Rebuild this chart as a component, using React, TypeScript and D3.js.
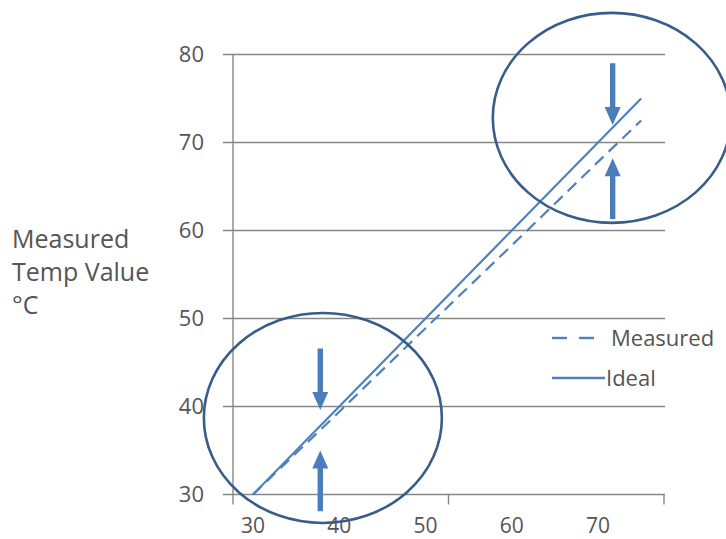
import * as d3 from "d3";

// chart values
const xValues = [30, 40, 50, 60, 70, 75];
const idealValues = [30, 40, 50, 60, 70, 75];
const measuredValues = [30, 39.4, 48.9, 58.3, 67.8, 72.5];
const yTicks = [30, 40, 50, 60, 70, 80];
const xTickLabels = [30, 40, 50, 60, 70];
const legendItems = ["Measured", "Ideal"];
const yLabelLines = ["Measured", "Temp Value", "°C"];

// annotation ellipses and arrows, in data units
const circles = [
  { x: 38.1, y: 38.7 },
  { x: 71.6, y: 72.8 },
];
const arrows = [
  { x: 37.8, from: 46.6, to: 39.6 },
  { x: 37.8, from: 28.1, to: 35.0 },
  { x: 71.7, from: 79.0, to: 72.0 },
  { x: 71.7, from: 61.3, to: 68.2 },
];

const W = 726;
const H = 539;
const lineColor = "#4f81bd";
const arrowColor = "#4a7ebb";
const ringColor = "#385d8a";
const gridColor = "#878787";
const textColor = "#555555";
const font = "'Open Sans', sans-serif";

const x = d3.scaleLinear().domain([30, 70]).range([253, 598]);
const y = d3.scaleLinear().domain([30, 80]).range([494.5, 54.5]);
const axisLeft = 233;
const axisRight = 664;

const line = d3
  .line<number>()
  .x((_, i) => x(xValues[i]))
  .y((d) => y(d));

function arrowPath(a: { x: number; from: number; to: number }) {
  const cx = x(a.x);
  const y0 = y(a.from);
  const y1 = y(a.to);
  const dir = y1 > y0 ? 1 : -1;
  const headLen = 18;
  const headW = 8;
  const shaft = 2.7;
  const yb = y1 - dir * headLen;
  const p = d3.path();
  p.moveTo(cx - shaft, y0);
  p.lineTo(cx - shaft, yb);
  p.lineTo(cx - headW, yb);
  p.lineTo(cx, y1);
  p.lineTo(cx + headW, yb);
  p.lineTo(cx + shaft, yb);
  p.lineTo(cx + shaft, y0);
  p.closePath();
  return p.toString();
}

export default function App() {
  return (
    <svg
      width={W}
      height={H}
      style={{ position: "absolute", left: 0, top: 0, background: "#fff" }}
    >
      {/* gridlines and y ticks */}
      {yTicks.map((t) => (
        <g key={t}>
          <line
            x1={axisLeft - 10}
            x2={axisRight + 1}
            y1={y(t)}
            y2={y(t)}
            stroke={gridColor}
            strokeWidth={1.4}
          />
          <text
            x={204}
            y={y(t)}
            dy="0.36em"
            textAnchor="end"
            fontFamily={font}
            fontSize={22}
            fill={textColor}
          >
            {t}
          </text>
        </g>
      ))}
      {/* y axis */}
      <line x1={axisLeft} x2={axisLeft} y1={y(80)} y2={y(30)} stroke={gridColor} strokeWidth={1.4} />
      {/* x axis tick marks */}
      {[axisLeft, (axisLeft + axisRight) / 2, axisRight].map((px) => (
        <line key={px} x1={px} x2={px} y1={y(30)} y2={y(30) + 10} stroke={gridColor} strokeWidth={1.4} />
      ))}
      {xTickLabels.map((t) => (
        <text
          key={t}
          x={x(t)}
          y={533}
          textAnchor="middle"
          fontFamily={font}
          fontSize={21}
          fill={textColor}
        >
          {t}
        </text>
      ))}

      {/* y axis label */}
      <text fontFamily={font} fontSize={25} fill={textColor}>
        {yLabelLines.map((l, i) => (
          <tspan key={l} x={12} y={248 + i * 33}>
            {l}
          </tspan>
        ))}
      </text>

      {/* series */}
      <path d={line(measuredValues) ?? ""} fill="none" stroke={lineColor} strokeWidth={2.2} strokeDasharray="12,7" />
      <path d={line(idealValues) ?? ""} fill="none" stroke={lineColor} strokeWidth={2.2} />

      {/* legend */}
      <line x1={552} x2={567} y1={338} y2={338} stroke={lineColor} strokeWidth={2.4} />
      <line x1={579} x2={594} y1={338} y2={338} stroke={lineColor} strokeWidth={2.4} />
      <text x={611} y={345.5} fontFamily={font} fontSize={22} fill={textColor}>
        {legendItems[0]}
      </text>
      <line x1={552} x2={605} y1={378} y2={378} stroke={lineColor} strokeWidth={2.4} />
      <text x={606} y={385.5} fontFamily={font} fontSize={22} fill={textColor}>
        {legendItems[1]}
      </text>

      {/* annotation rings and arrows */}
      {circles.map((c, i) => (
        <ellipse
          key={i}
          cx={x(c.x)}
          cy={y(c.y)}
          rx={119}
          ry={105}
          fill="none"
          stroke={ringColor}
          strokeWidth={2.6}
        />
      ))}
      {arrows.map((a, i) => (
        <path key={i} d={arrowPath(a)} fill={arrowColor} />
      ))}
    </svg>
  );
}
